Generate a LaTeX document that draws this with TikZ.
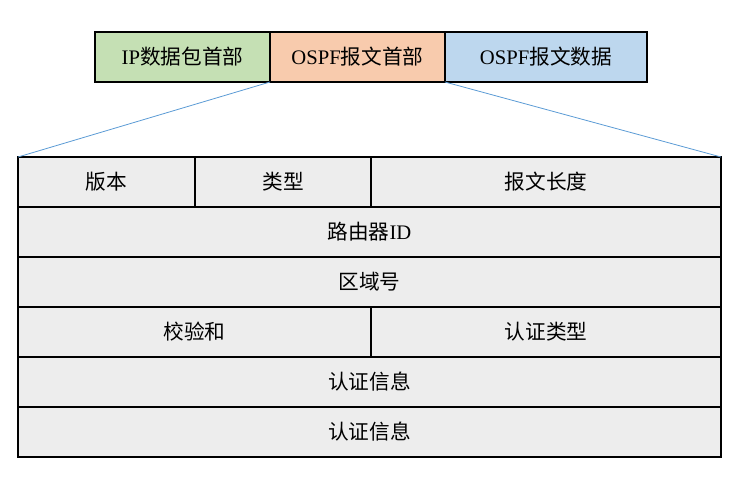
\documentclass[tikz,border=0pt]{standalone}
\usepackage{fontspec}
\setmainfont{Liberation Serif}
\newfontfamily\cjk{Noto Sans CJK SC}
\newcommand{\zh}[1]{{\cjk #1}}
\usetikzlibrary{positioning}
\definecolor{ipgreen}{HTML}{C5E0B4}
\definecolor{hdrorange}{HTML}{F8CBAD}
\definecolor{datablue}{HTML}{BDD7EE}
\definecolor{cellgray}{HTML}{EDEDED}
\definecolor{zoomblue}{HTML}{5B9BD5}
\tikzset{
  part/.style={draw, line width=0.8pt, outer sep=0pt, minimum height=37.5pt, font=\fontsize{15.5}{18}\selectfont},
  cell/.style={part, fill=cellgray},
  zoomline/.style={draw=zoomblue, line width=0.6pt}
}
\begin{document}
\begin{tikzpicture}[x=0.75pt, y=-0.75pt]
    \useasboundingbox (0,0) rectangle (752,476);
    % Packet parts
    \node[part, fill=ipgreen, minimum width=131.25pt, anchor=north west] (ip) at (95,32) {IP\zh{数据包首部}};
    \node[part, fill=hdrorange, minimum width=131.25pt, right=0pt of ip] (hdr) {OSPF\zh{报文首部}};
    \node[part, fill=datablue, minimum width=151.5pt, right=0pt of hdr] (data) {OSPF\zh{报文数据}};
    % Header fields
    \node[cell, minimum width=132.75pt, anchor=north west] (ver) at (18,157) {\zh{版本}};
    \node[cell, minimum width=132pt, right=0pt of ver] (type) {\zh{类型}};
    \node[cell, minimum width=262.5pt, right=0pt of type] (len) {\zh{报文长度}};
    \node[cell, minimum width=527.25pt, anchor=north west] (rid) at (ver.south west) {\zh{路由器}ID};
    \node[cell, minimum width=527.25pt, below=0pt of rid] (area) {\zh{区域号}};
    \node[cell, minimum width=264.75pt, anchor=north west] (sum) at (area.south west) {\zh{校验和}};
    \node[cell, minimum width=262.5pt, right=0pt of sum] (autype) {\zh{认证类型}};
    \node[cell, minimum width=527.25pt, anchor=north west] (auth1) at (sum.south west) {\zh{认证信息}};
    \node[cell, minimum width=527.25pt, below=0pt of auth1] (auth2) {\zh{认证信息}};
    % Zoom lines
    \draw[zoomline] (ip.south east) -- (ver.north west);
    \draw[zoomline] (data.south west) -- (len.north east);
\end{tikzpicture}
\end{document}
